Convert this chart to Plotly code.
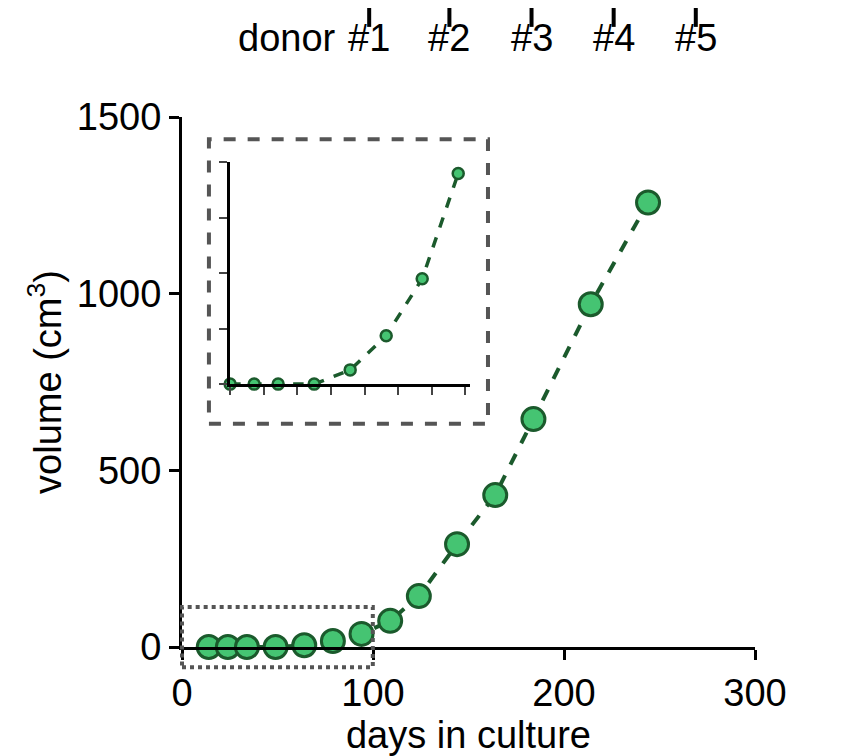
import plotly.graph_objects as go

days = [14, 24, 34, 49, 64, 79, 94, 109, 124, 144, 164, 184, 214, 244]
volume = [0, 0, 0, 0, 5, 17, 37, 74, 144, 291, 430, 645, 970, 1258]
inset_n = 8
donor_days = [98, 140, 183, 226, 269]
donor_labels = ["#1", "#2", "#3", "#4", "#5"]

dark = "#1b5a2c"
fill = "#45c472"
fig = go.Figure()
fig.add_trace(go.Scatter(x=days, y=volume, mode="lines+markers",
    line=dict(color=dark, width=4, dash="dash"),
    marker=dict(size=23, color=fill, line=dict(color=dark, width=3)),
    cliponaxis=False, showlegend=False))
fig.add_trace(go.Scatter(x=days[:inset_n], y=volume[:inset_n], mode="lines+markers",
    xaxis="x2", yaxis="y2",
    line=dict(color=dark, width=3.5, dash="dash"),
    marker=dict(size=11, color=fill, line=dict(color=dark, width=2.5)),
    cliponaxis=False, showlegend=False))

font = dict(family="Liberation Sans Narrow, Liberation Sans, Arial", size=38, color="black")
ax = dict(showgrid=False, zeroline=False, showline=True, linecolor="black", linewidth=3,
          ticks="outside", ticklen=10, tickwidth=3, tickcolor="black", tickfont=font)
fig.update_layout(
    width=854, height=756, plot_bgcolor="white", paper_bgcolor="white",
    margin=dict(l=174, r=107, t=109, b=117), font=font,
    xaxis=dict(ax, range=[0, 300], tickvals=[0, 100, 200, 300],
               title=dict(text="days in culture", font=font, standoff=0)),
    yaxis=dict(ax, range=[0, 1500], tickvals=[0, 500, 1000, 1500],
               title=dict(text="volume (cm<sup>3</sup>)", font=font, standoff=4)),
    xaxis2=dict(domain=[0.084, 0.503], anchor="y2", range=[14, 114], showgrid=False,
                zeroline=False, showline=True, linecolor="black", linewidth=3,
                ticks="outside", ticklen=8, tickwidth=2, dtick=14, tick0=14, showticklabels=False),
    yaxis2=dict(domain=[0.496, 0.915], anchor="x2", range=[0, 78], showgrid=False,
                zeroline=False, showline=True, linecolor="black", linewidth=3,
                ticks="outside", ticklen=8, tickwidth=2, dtick=19.5, showticklabels=False),
)
fig.add_shape(type="rect", xref="paper", yref="paper", x0=0, x1=0.333, y0=-0.038, y1=0.0753,
              line=dict(color="#555", width=4, dash="dot"))
fig.add_shape(type="rect", xref="paper", yref="paper", x0=0.047, x1=0.534, y0=0.421, y1=0.958,
              line=dict(color="#555", width=4, dash="dash"))
for d, lab in zip(donor_days, donor_labels):
    fig.add_shape(type="line", xref="x", yref="paper", x0=d, x1=d, y0=1.17, y1=1.25,
                  line=dict(color="black", width=4))
    fig.add_annotation(x=d, y=1.15, xref="x", yref="paper", text=lab, showarrow=False,
                       font=font, yanchor="middle")
fig.add_annotation(x=(330 - 174) / 573, y=1.15, xref="paper", yref="paper", text="donor",
                   showarrow=False, font=font, xanchor="right", yanchor="middle")
fig.write_html("out.html")
